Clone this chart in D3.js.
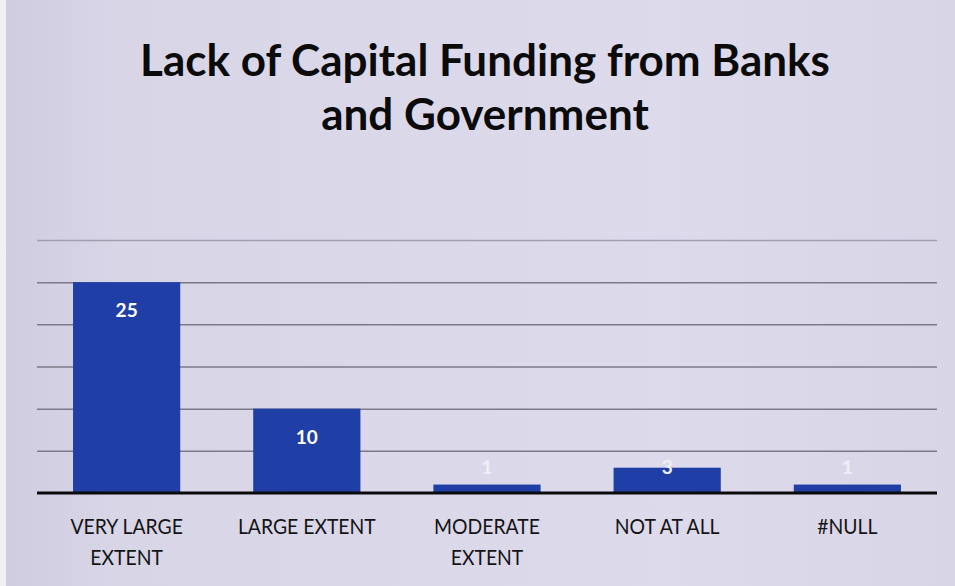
<!DOCTYPE html>
<html>
<head>
<meta charset="utf-8">
<script src="https://cdn.jsdelivr.net/npm/d3@7"></script>
<style>
  html, body { margin: 0; padding: 0; background: #d8d5e7; }
  svg { display: block; }
</style>
</head>
<body>
<svg id="chart" width="955" height="586"></svg>
<script>
// Survey responses: "Lack of Capital Funding from Banks and Government"
const categories = ["VERY LARGE EXTENT", "LARGE EXTENT", "MODERATE EXTENT", "NOT AT ALL", "#NULL"];
const counts = [25, 10, 1, 3, 1];
const gridTicks = [0, 5, 10, 15, 20, 25, 30];
const titleLines = ["Lack of Capital Funding from Banks", "and Government"];

const W = 955, H = 586;
const margin = { top: 196, right: 18, bottom: 93, left: 37 };
const svg = d3.select("#chart");

// Paper background with a soft vignette
const defs = svg.append("defs");
const grad = defs.append("linearGradient").attr("id", "paper").attr("x1", 0).attr("x2", 1).attr("y1", 0).attr("y2", 0);
grad.append("stop").attr("offset", "0%").attr("stop-color", "#cfcce0");
grad.append("stop").attr("offset", "12%").attr("stop-color", "#d8d5e7");
grad.append("stop").attr("offset", "70%").attr("stop-color", "#dddaec");
grad.append("stop").attr("offset", "100%").attr("stop-color", "#d8d5e7");
svg.append("rect").attr("width", W).attr("height", H).attr("fill", "url(#paper)");
svg.append("rect").attr("x", 0).attr("y", 0).attr("width", 6).attr("height", H).attr("fill", "#f1f0f6");

const x = d3.scaleBand()
  .domain(categories)
  .range([margin.left, W - margin.right])
  .paddingInner(0.405)
  .paddingOuter(0.2);

const y = d3.scaleLinear()
  .domain([0, 30])
  .range([H - margin.bottom, H - margin.bottom - 253]);

// Horizontal gridlines
const grid = svg.append("g")
  .attr("transform", `translate(${margin.left},0)`)
  .call(d3.axisLeft(y).tickValues(gridTicks.slice(1)).tickSize(-(W - margin.left - margin.right)).tickFormat(""));
grid.select(".domain").remove();
grid.selectAll(".tick line")
  .attr("stroke", d => d >= 30 ? "#a19eae" : "#7d7a88")
  .attr("stroke-width", 1.5);

// Bars
svg.append("g").selectAll("rect")
  .data(counts)
  .join("rect")
  .attr("x", (d, i) => x(categories[i]))
  .attr("y", d => y(d))
  .attr("width", x.bandwidth())
  .attr("height", d => y(0) - y(d))
  .attr("fill", "#1f3fa6");

// Baseline axis
const xAxis = svg.append("g")
  .attr("transform", `translate(0,${y(0)})`)
  .call(d3.axisBottom(x).tickSize(0).tickPadding(0));
xAxis.select(".domain").attr("stroke", "#0a0a0a").attr("stroke-width", 3.2).attr("d", `M${margin.left},0H${W - margin.right}`);
xAxis.selectAll(".tick text").remove();

// Category labels, horizontally condensed and wrapped to fit the band
const labelFont = "Lato, 'Open Sans', sans-serif";
const labelSize = 22;
const squeeze = 0.88;
const maxLabelW = 165;
function wrapWords(text, probe) {
  const words = text.split(" ");
  const lines = [];
  let cur = "";
  words.forEach(w => {
    const trial = cur ? cur + " " + w : w;
    probe.text(trial);
    if (cur && probe.node().getComputedTextLength() * squeeze > maxLabelW) {
      lines.push(cur);
      cur = w;
    } else {
      cur = trial;
    }
  });
  if (cur) lines.push(cur);
  return lines;
}
const probe = svg.append("text").attr("font-family", labelFont).attr("font-size", labelSize).attr("visibility", "hidden");

const labels = svg.append("g")
  .attr("font-family", labelFont)
  .attr("font-size", labelSize)
  .attr("fill", "#141414")
  .attr("text-anchor", "middle");
categories.forEach(c => {
  const lines = wrapWords(c, probe);
  const cx = x(c) + x.bandwidth() / 2;
  const t = labels.append("text")
    .attr("y", y(0) + 41)
    .attr("transform", `translate(${cx},0) scale(${squeeze},1)`);
  lines.forEach((ln, k) => {
    t.append("tspan").attr("x", 0).attr("dy", k === 0 ? 0 : 31).text(ln);
  });
});
probe.remove();

// Value labels near the top of each bar
svg.append("g")
  .attr("font-family", labelFont)
  .attr("font-size", 19)
  .attr("font-weight", 700)
  .attr("text-anchor", "middle")
  .selectAll("text")
  .data(counts)
  .join("text")
  .attr("x", (d, i) => x(categories[i]) + x.bandwidth() / 2)
  .attr("y", d => Math.min(y(d) + 35, y(0) - 19))
  .attr("fill", d => (y(0) - y(d)) > 30 ? "#ffffff" : "#f0eff7")
  .text(d => d);

// Title
svg.append("g")
  .attr("font-family", labelFont)
  .attr("font-weight", 700)
  .attr("font-size", 44)
  .attr("fill", "#0b0b0b")
  .attr("text-anchor", "middle")
  .selectAll("text")
  .data(titleLines)
  .join("text")
  .attr("x", 485)
  .attr("y", (d, i) => 76 + i * 54)
  .text(d => d);
</script>
</body>
</html>
